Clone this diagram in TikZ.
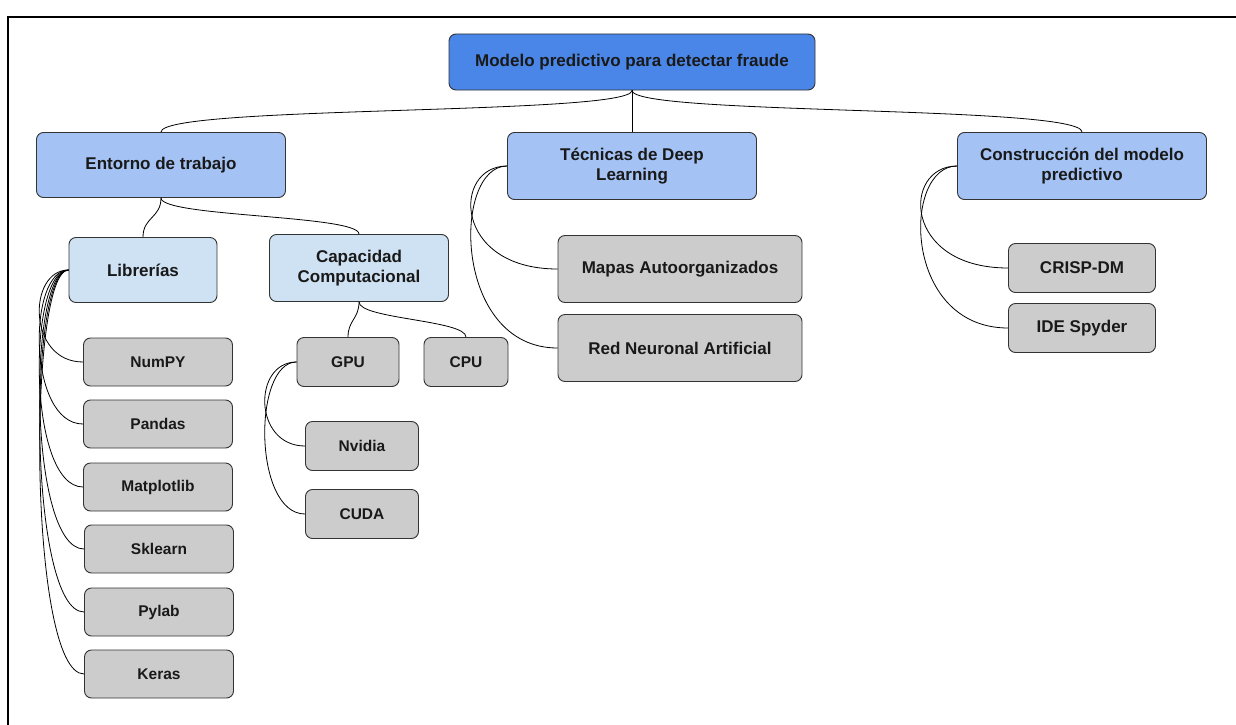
\documentclass[tikz,border=0pt]{standalone}
\usepackage{fontspec}
\setmainfont{Liberation Sans}
\definecolor{rootblue}{HTML}{4A86E8}
\definecolor{midblue}{HTML}{A4C2F4}
\definecolor{paleblue}{HTML}{CFE2F3}
\definecolor{leafgrey}{HTML}{CCCCCC}
\begin{document}
\begin{tikzpicture}[x=1pt,y=-1pt,
  box/.style={draw=black!80, line width=0.9pt, rounded corners=7pt, inner sep=0pt, align=center, text=black!90, font=\bfseries\fontsize{17}{20.5}\selectfont},
  rootbox/.style={box, fill=rootblue},
  lvtwo/.style={box, fill=midblue},
  lvthree/.style={box, fill=paleblue},
  leaf/.style={box, fill=leafgrey},
  smallleaf/.style={leaf, font=\bfseries\fontsize{15.5}{18}\selectfont},
  link/.style={draw=black, line width=0.8pt}
]
\useasboundingbox (0,0) rectangle (1236,725);
% frame
\draw[line width=2.5pt] (8,17) -- (1236,17);
\draw[line width=2pt] (8,16) -- (8,725);

% nodes
\node[rootbox, minimum width=366, minimum height=56] (root) at (632,62) {Modelo predictivo para detectar fraude};

\node[lvtwo, minimum width=249, minimum height=65] (ent) at (161,165) {Entorno de trabajo};
\node[lvtwo, minimum width=249, minimum height=67] (tec) at (632,166) {Técnicas de Deep\\Learning};
\node[lvtwo, minimum width=249, minimum height=67] (con) at (1082,166) {Construcción del modelo\\predictivo};

\node[lvthree, minimum width=148, minimum height=65] (lib) at (143,270) {Librerías};
\node[lvthree, minimum width=179, minimum height=67] (cap) at (359,268) {Capacidad\\Computacional};

\node[smallleaf, minimum width=149, minimum height=48] (numpy) at (158,362) {NumPY};
\node[smallleaf, minimum width=149, minimum height=48] (pandas) at (158,424) {Pandas};
\node[smallleaf, minimum width=149, minimum height=48] (matplot) at (158,487) {Matplotlib};
\node[smallleaf, minimum width=149, minimum height=48] (sklearn) at (159,549) {Sklearn};
\node[smallleaf, minimum width=149, minimum height=48] (pylab) at (159,612) {Pylab};
\node[smallleaf, minimum width=149, minimum height=48] (keras) at (159,674) {Keras};

\node[smallleaf, minimum width=102, minimum height=49] (gpu) at (348,362) {GPU};
\node[smallleaf, minimum width=84, minimum height=49] (cpu) at (466,362) {CPU};
\node[smallleaf, minimum width=113, minimum height=49] (nvidia) at (362,446) {Nvidia};
\node[smallleaf, minimum width=113, minimum height=49] (cuda) at (362,514) {CUDA};

\node[leaf, minimum width=244, minimum height=67] (mapas) at (680,269) {Mapas Autoorganizados};
\node[leaf, minimum width=244, minimum height=67] (red) at (680,348) {Red Neuronal Artificial};

\node[leaf, minimum width=147, minimum height=49] (crisp) at (1082,268) {CRISP-DM};
\node[leaf, minimum width=147, minimum height=49] (ide) at (1082,328) {IDE Spyder};

% connectors
\draw[link] (root.south) .. controls +(0,25) and +(0,-27) .. (ent.north);
\draw[link] (root.south) -- (tec.north);
\draw[link] (root.south) .. controls +(0,25) and +(0,-27) .. (con.north);

\draw[link] (ent.south) .. controls +(0,20) and +(0,-20) .. (lib.north);
\draw[link] (ent.south) .. controls +(0,19) and +(0,-19) .. (cap.north);

\foreach \n in {numpy,pandas,matplot,sklearn,pylab,keras}
  \draw[link] (lib.west) .. controls +(-41,0) and +(-56,0) .. (\n.west);

\draw[link] (cap.south) .. controls +(0,17) and +(0,-17) .. (gpu.north);
\draw[link] (cap.south) .. controls +(0,17) and +(0,-17) .. (cpu.north);

\draw[link] (gpu.west) .. controls +(-44,0) and +(-52,0) .. (nvidia.west);
\draw[link] (gpu.west) .. controls +(-44,0) and +(-52,0) .. (cuda.west);

\draw[link] (tec.west) .. controls +(-55,0) and +(-105,0) .. (mapas.west);
\draw[link] (tec.west) .. controls +(-55,0) and +(-105,0) .. (red.west);

\draw[link] (con.west) .. controls +(-55,0) and +(-106,0) .. (crisp.west);
\draw[link] (con.west) .. controls +(-55,0) and +(-106,0) .. (ide.west);
\end{tikzpicture}
\end{document}
